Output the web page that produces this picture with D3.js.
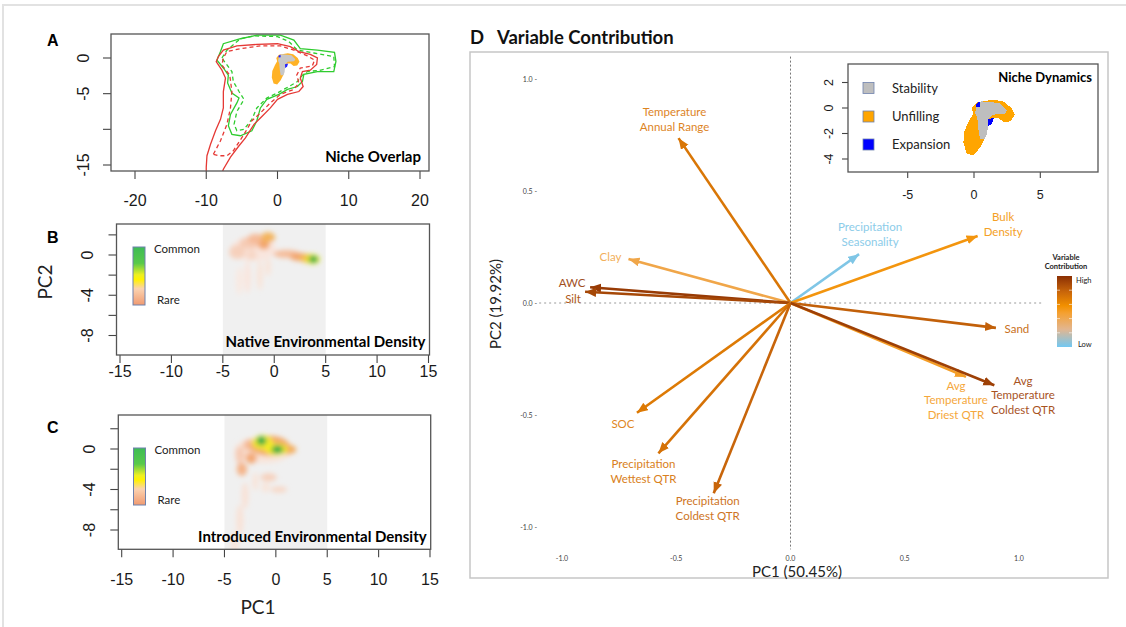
<!DOCTYPE html>
<html>
<head>
<meta charset="utf-8">
<script src="https://cdn.jsdelivr.net/npm/d3@7"></script>
<style>
  body { margin: 0; background: #fff; }
  svg { display: block; font-family: "Liberation Sans", Arial, sans-serif; }
</style>
</head>
<body>
<script>
// ---------------- Panel A: niche overlap contours (PC1, PC2) ----------------
const overlapXTicks = [-20, -10, 0, 10, 20];
const overlapYTicks = [0, -5, -10, -15];
const overlapYTickLabels = [0, -5, -15];

// native range envelope (outer, solid) and core (dashed)
const nativeRange = [[-10.0,-16.2],[-10.0,-15.3],[-9.9,-13.7],[-9.4,-12.1],[-8.7,-10.2],[-8.0,-8.6],[-7.6,-7.0],[-7.6,-4.7],[-7.3,-2.8],[-7.8,-1.7],[-8.6,-0.5],[-8.3,0.2],[-7.6,1.1],[-5.7,1.7],[-2.9,1.9],[0,2.0],[1.8,1.6],[3.0,0.9],[4.6,0.5],[5.6,0],[5.5,-0.9],[4.6,-1.7],[3.5,-1.9],[3.2,-2.8],[3.6,-4.0],[3.0,-4.7],[1.4,-5.1],[0,-5.8],[-1.0,-7.0],[-2.4,-8.4],[-3.3,-9.3],[-4.5,-11.2],[-5.4,-12.3],[-6.6,-13.9],[-7.6,-15.6],[-7.8,-16.2]];
const nativeRangeCore = [[-9.0,-13.5],[-8.0,-11.6],[-7.1,-9.3],[-6.6,-7.0],[-6.4,-4.7],[-6.7,-2.4],[-7.8,-1.0],[-7.6,0],[-7.1,0.9],[-5.2,1.3],[-2.4,1.7],[0.4,1.7],[2.3,1.1],[4.2,0.3],[5.2,-0.3],[4.9,-1.1],[3.2,-1.4],[2.7,-2.4],[3.0,-3.5],[2.3,-4.4],[0.4,-5.1],[-1.0,-6.3],[-2.4,-7.7],[-3.6,-8.8],[-4.7,-10.7],[-6.2,-13.0],[-7.1,-13.7],[-8.3,-13.7]];
// introduced range envelope (outer, solid) and core (dashed)
const introRange = [[-8.5,-0.3],[-8.0,0.9],[-7.6,2.0],[-5.2,2.7],[-2.9,3.2],[0.4,3.2],[2.3,2.5],[3.2,1.3],[5.6,1.1],[8.0,0.8],[8.2,-0.5],[7.9,-1.9],[5.6,-1.9],[3.7,-2.3],[3.5,-3.3],[2.8,-4.0],[1.4,-4.4],[0.2,-5.1],[-1.5,-5.8],[-2.4,-7.0],[-2.9,-8.8],[-3.6,-10.2],[-5.2,-10.9],[-6.4,-10.7],[-6.9,-9.5],[-6.6,-7.9],[-5.7,-6.3],[-5.4,-5.6],[-6.4,-4.9],[-7.0,-3.5],[-6.9,-2.4],[-7.6,-1.4]];
const introRangeCore = [[-7.8,0],[-7.1,1.1],[-5.2,2.7],[-3.3,3.1],[0,3.0],[1.6,2.3],[2.8,1.1],[5.1,0.7],[7.9,0.2],[8.0,-1.2],[6.1,-1.7],[4.2,-1.9],[3.5,-2.4],[2.8,-3.3],[1.6,-4.0],[0,-4.9],[-1.5,-5.6],[-2.9,-7.0],[-3.6,-8.6],[-4.7,-10.0],[-5.7,-10.2],[-6.1,-9.3],[-5.7,-7.5],[-4.7,-5.8],[-5.4,-4.7],[-6.2,-3.3],[-6.4,-1.9],[-7.3,-0.7]];

// ---------------- Niche dynamics (shared by panel A and inset) ----------------
const nicheCategories = ["Stability", "Unfilling", "Expansion"];
const nicheColors = ["#bebebe", "#ffa500", "#0000ff"];
const nicheUnfilling = [[-0.17,0],[0.2,0.44],[1.45,0.65],[2.2,0.52],[2.84,0],[3.09,-0.52],[2.76,-1.04],[2.26,-1.12],[1.83,-0.78],[1.33,-0.78],[0.95,-1.43],[0.83,-2.34],[0.45,-3.12],[-0.05,-3.73],[-0.55,-3.57],[-0.8,-2.73],[-0.73,-1.82],[-0.35,-0.97],[-0.05,-0.45]];
const nicheStability = [[0.2,0.26],[0.58,0.52],[1.96,0.39],[2.5,-0.19],[2.34,-0.45],[1.45,-0.52],[1.08,-0.91],[1.0,-1.95],[0.83,-2.42],[0.45,-2.42],[0.33,-1.7],[0.25,-0.78],[0.08,-0.39]];
const nicheExpansion = [
  [[0.12,0.28],[0.42,0.5],[0.45,0.12],[0.18,0.08]],
  [[1.05,-0.86],[1.5,-0.78],[1.35,-1.2],[1.08,-1.45]]
];
const insetXTicks = [-5, 0, 5];
const insetYTicks = [2, 0, -2, -4];

// ---------------- Panels B and C: environmental density ----------------
const densityXTicks = [-15, -10, -5, 0, 5, 10, 15];
const densityYTicks = [2, 0, -2, -4, -6, -8];
const densityYTickLabels = [0, -4, -8];
const envExtent = [-5, 5];
// density kernels: [pc1, pc2, spread1, spread2, relative density]
const nativeDensity = [
  [-2.0,0.6,2.2,1.2,0.05],[-3.6,0.3,0.8,0.7,0.12],[-2.4,1.2,1.0,0.6,0.14],[-1.8,1.6,0.8,0.5,0.2],
  [-0.6,1.75,0.7,0.5,0.36],[-1.0,1.0,0.55,0.45,0.3],[-2.2,0.0,0.5,0.5,0.1],
  [1.2,0.1,1.3,0.4,0.2],[2.5,-0.2,1.0,0.4,0.3],[3.3,-0.35,0.8,0.45,0.4],[3.75,-0.42,0.7,0.5,0.62],[3.8,-0.42,0.45,0.35,1.0],
  [-2.6,-2.2,0.35,1.6,0.05],[-1.4,-2.0,0.3,1.5,0.06],[-0.6,-1.2,0.3,0.9,0.06],[-3.4,-2.6,0.3,1.4,0.04]
];
const introducedDensity = [
  [-1.2,-0.1,2.8,1.3,0.06],[-3.5,-0.6,0.45,0.9,0.14],[-3.3,-2.0,0.5,0.65,0.24],[-2.4,-0.9,0.55,0.55,0.28],
  [-2.4,0.4,0.8,0.6,0.2],[-0.6,0.3,1.9,1.0,0.32],[1.1,-0.05,0.9,0.5,0.34],[-1.3,0.65,1.0,0.7,0.6],
  [0.05,-0.05,1.1,0.6,0.6],[-0.6,0.2,0.45,0.4,0.5],[-1.4,0.8,0.5,0.45,1.0],[0.15,-0.05,0.6,0.4,1.0],
  [-0.7,-2.8,0.8,0.4,0.12],[0.3,-4.0,0.8,0.3,0.1],[-1.0,-3.8,0.4,0.5,0.06],[-3.0,-4.6,0.35,1.3,0.07],
  [-3.5,-7.0,0.35,1.5,0.07],[-4.0,-9.3,0.35,1.2,0.06],[-2.0,-3.2,0.3,0.9,0.06]
];

// ---------------- Panel D: PCA variable loadings ----------------
const variableLabels = [
  ["Temperature","Annual Range"], ["Clay"], ["AWC"], ["Silt"], ["SOC"],
  ["Precipitation","Wettest QTR"], ["Precipitation","Coldest QTR"], ["Precipitation","Seasonality"],
  ["Bulk","Density"], ["Sand"], ["Avg","Temperature","Driest QTR"], ["Avg","Temperature","Coldest QTR"]
];
const pc1Loadings = [-0.49, -0.709, -0.877, -0.899, -0.672, -0.578, -0.336, 0.30, 0.819, 0.899, 0.768, 0.892];
const pc2Loadings = [0.736, 0.196, 0.07, 0.05, -0.49, -0.671, -0.849, 0.218, 0.299, -0.111, -0.33, -0.367];
const contributions = [0.7, 0.42, 0.95, 0.9, 0.68, 0.72, 0.78, 0.03, 0.55, 0.8, 0.5, 0.93];
const loadingTicks = [-1, -0.5, 0, 0.5, 1];
const pc1Label = "PC1 (50.45%)";
const pc2Label = "PC2 (19.92%)";

// label placement relative to arrow tips (px)
const labelOffsets = [[-4,-26],[-18,-2.5],[-18,-4],[-12,7.3],[-14,11.5],[-15,11],[-6,8],[11,-26.7],[25.5,-19],[21,1],[-10,9],[28.7,-4.7]];

// ================= drawing =================
const svg = d3.select("body").append("svg").attr("width", 1126).attr("height", 627);
const defs = svg.append("defs");

defs.append("filter").attr("id", "soft")
  .attr("filterUnits", "userSpaceOnUse").attr("x", 0).attr("y", 0).attr("width", 1126).attr("height", 627)
  .append("feGaussianBlur").attr("stdDeviation", 2.6);

// page frame
svg.append("path").attr("d", "M3,627 V5 H1126").attr("fill", "none").attr("stroke", "#e2e2e2").attr("stroke-width", 2);

function clipRect(id, b) {
  defs.append("clipPath").attr("id", id).append("rect")
    .attr("x", b.x0).attr("y", b.y0).attr("width", b.x1 - b.x0).attr("height", b.y1 - b.y0);
}

function rAxes(b, xs, ys, xTicks, yTicks, yLabelVals, o) {
  const g = svg.append("g").attr("font-size", o.size).attr("fill", "#1a1a1a");
  g.selectAll("line.xt").data(xTicks).join("line").attr("class", "xt")
    .attr("x1", d => xs(d)).attr("x2", d => xs(d)).attr("y1", b.y1).attr("y2", b.y1 + o.tick)
    .attr("stroke", "#444").attr("stroke-width", 1.1);
  g.selectAll("text.xl").data(xTicks).join("text").attr("class", "xl")
    .attr("x", d => xs(d)).attr("y", o.xLabY).attr("text-anchor", "middle").text(d => String(d));
  g.selectAll("line.yt").data(yTicks).join("line").attr("class", "yt")
    .attr("x1", b.x0 - o.tick).attr("x2", b.x0).attr("y1", d => ys(d)).attr("y2", d => ys(d))
    .attr("stroke", "#444").attr("stroke-width", 1.1);
  g.selectAll("text.yl").data(yLabelVals).join("text").attr("class", "yl")
    .attr("x", o.yLabX).attr("y", d => ys(d)).attr("text-anchor", "middle")
    .attr("transform", d => `rotate(-90,${o.yLabX},${ys(d)})`).text(d => String(d));
  svg.append("rect").attr("x", b.x0).attr("y", b.y0).attr("width", b.x1 - b.x0).attr("height", b.y1 - b.y0)
    .attr("fill", "none").attr("stroke", "#555").attr("stroke-width", 1.3);
}

function drawNiche(g, xs, ys) {
  const poly = d3.line().x(d => xs(d[0])).y(d => ys(d[1])).curve(d3.curveLinearClosed);
  g.append("path").attr("d", poly(nicheUnfilling)).attr("fill", nicheColors[1]);
  g.append("path").attr("d", poly(nicheStability)).attr("fill", nicheColors[0]);
  g.selectAll("path.exp").data(nicheExpansion).join("path").attr("class", "exp")
    .attr("d", poly).attr("fill", nicheColors[2]);
}

// ---------- Panel A ----------
const boxA = { x0: 111, y0: 34, x1: 429, y1: 171 };
const xA = d3.scaleLinear().domain([-20, 20]).range([135, 420]);
const yA = d3.scaleLinear().domain([0, -15]).range([58, 165]);
clipRect("clipA", boxA);
const gA = svg.append("g").attr("clip-path", "url(#clipA)");
drawNiche(gA.append("g").attr("opacity", 0.85), xA, yA);
const lineA = d3.line().x(d => xA(d[0])).y(d => yA(d[1]));
const lineAc = d3.line().x(d => xA(d[0])).y(d => yA(d[1])).curve(d3.curveLinearClosed);
const red = "#e53935", green = "#2fcc2f";
gA.append("path").attr("d", lineAc(introRangeCore)).attr("fill", "none").attr("stroke", green).attr("stroke-width", 1.3).attr("stroke-dasharray", "4,3");
gA.append("path").attr("d", lineAc(introRange)).attr("fill", "none").attr("stroke", green).attr("stroke-width", 1.3);
gA.append("path").attr("d", lineAc(nativeRangeCore)).attr("fill", "none").attr("stroke", red).attr("stroke-width", 1.3).attr("stroke-dasharray", "4,3");
gA.append("path").attr("d", lineA(nativeRange)).attr("fill", "none").attr("stroke", red).attr("stroke-width", 1.3);
rAxes(boxA, xA, yA, overlapXTicks, overlapYTicks, overlapYTickLabels, { size: 16, tick: 8, xLabY: 206, yLabX: 89 });
svg.append("text").attr("x", 421).attr("y", 162).attr("text-anchor", "end")
  .attr("font-family", "Lato, sans-serif").attr("font-weight", 700).attr("font-size", 15).text("Niche Overlap");
svg.append("text").attr("x", 47).attr("y", 46).attr("font-weight", 700).attr("font-size", 16).text("A");

// ---------- Panels B & C ----------
const densityColor = d3.scaleLinear()
  .domain([0, 0.08, 0.18, 0.3, 0.45, 0.6, 0.8, 1])
  .range(["#fdf2ec", "#f9dccd", "#f5bea0", "#f2a266", "#f5c83a", "#f7ee22", "#9bd82c", "#16a84a"]);

const legendGrad = defs.append("linearGradient").attr("id", "densLegend").attr("x1", 0).attr("y1", 0).attr("x2", 0).attr("y2", 1);
[[0, "#3dbb55"], [0.28, "#58c94a"], [0.48, "#eef020"], [0.56, "#fff200"], [0.72, "#fbd2b0"], [1, "#f09a70"]]
  .forEach(s => legendGrad.append("stop").attr("offset", s[0]).attr("stop-color", s[1]));

function densityPanel(id, box, xs, ys, blobs, title, titleY, letter, letterY, leg) {
  clipRect(id, box);
  const g = svg.append("g").attr("clip-path", `url(#${id})`);
  g.append("rect").attr("x", xs(envExtent[0])).attr("width", xs(envExtent[1]) - xs(envExtent[0]))
    .attr("y", box.y0).attr("height", box.y1 - box.y0).attr("fill", "#f0f0f0");
  const sorted = blobs.slice().sort((a, b) => a[4] - b[4]);
  g.append("g").attr("filter", "url(#soft)")
    .selectAll("ellipse").data(sorted).join("ellipse")
    .attr("cx", d => xs(d[0])).attr("cy", d => ys(d[1]))
    .attr("rx", d => Math.abs(xs(d[2]) - xs(0))).attr("ry", d => Math.abs(ys(d[3]) - ys(0)))
    .attr("fill", d => densityColor(d[4]))
    .attr("fill-opacity", d => d[4] < 0.1 ? 0.8 : 0.95);
  rAxes(box, xs, ys, densityXTicks, densityYTicks, densityYTickLabels, leg.axis);
  svg.append("rect").attr("x", leg.x).attr("y", leg.y0).attr("width", 12).attr("height", leg.y1 - leg.y0)
    .attr("fill", "url(#densLegend)").attr("stroke", "#6f82ad").attr("stroke-width", 1);
  const lg = svg.append("g").attr("font-family", "Lato, sans-serif").attr("font-size", 11.5).attr("fill", "#222");
  lg.append("text").attr("x", leg.x + 21).attr("y", leg.y0 + 6).text("Common");
  lg.append("text").attr("x", leg.x + 24).attr("y", leg.y1 - 1).text("Rare");
  svg.append("text").attr("x", box.x1 - 4).attr("y", titleY).attr("text-anchor", "end")
    .attr("font-family", "Lato, sans-serif").attr("font-weight", 700).attr("font-size", 15).text(title);
  svg.append("text").attr("x", 47).attr("y", letterY).attr("font-weight", 700).attr("font-size", 16).text(letter);
}

const boxB = { x0: 116.5, y0: 224, x1: 429.5, y1: 355 };
const xB = d3.scaleLinear().domain([-15, 15]).range([120, 428.5]);
const yB = d3.scaleLinear().domain([0, -8]).range([255, 335.5]);
densityPanel("clipB", boxB, xB, yB, nativeDensity, "Native Environmental Density", 347, "B", 243,
  { x: 133, y0: 247, y1: 305, axis: { size: 16, tick: 8, xLabY: 377, yLabX: 93 } });

const boxC = { x0: 118.3, y0: 415, x1: 430.7, y1: 549.3 };
const xC = d3.scaleLinear().domain([-15, 15]).range([121.7, 430]);
const yC = d3.scaleLinear().domain([0, -8]).range([449, 530]);
densityPanel("clipC", boxC, xC, yC, introducedDensity, "Introduced Environmental Density", 542, "C", 433,
  { x: 133.5, y0: 448, y1: 505, axis: { size: 16, tick: 8, xLabY: 585, yLabX: 95 } });

svg.append("text").attr("x", 258).attr("y", 614).attr("text-anchor", "middle")
  .attr("font-family", "Lato, sans-serif").attr("font-size", 19).attr("fill", "#222").text("PC1");
svg.append("text").attr("x", 52).attr("y", 282).attr("text-anchor", "middle")
  .attr("transform", "rotate(-90,52,282)")
  .attr("font-family", "Lato, sans-serif").attr("font-size", 19).attr("fill", "#222").text("PC2");

// ---------- Panel D ----------
const boxD = { x0: 470, y0: 52, x1: 1108, y1: 578 };
svg.append("rect").attr("x", boxD.x0).attr("y", boxD.y0).attr("width", boxD.x1 - boxD.x0).attr("height", boxD.y1 - boxD.y0)
  .attr("fill", "#fff").attr("stroke", "#c6c6c6").attr("stroke-width", 1.5);
svg.append("text").attr("x", 470).attr("y", 44).attr("font-family", "Lato, sans-serif")
  .attr("font-weight", 700).attr("font-size", 18.5).attr("fill", "#111")
  .call(t => { t.append("tspan").text("D"); t.append("tspan").attr("x", 497).text("Variable Contribution"); });

const xD = d3.scaleLinear().domain([-1, 1]).range([562, 1019]);
const yD = d3.scaleLinear().domain([-1, 1]).range([527, 79]);

// reference lines through the origin
svg.append("line").attr("x1", xD(-1.1)).attr("x2", xD(1.1)).attr("y1", yD(0)).attr("y2", yD(0))
  .attr("stroke", "#9a9a9a").attr("stroke-width", 1).attr("stroke-dasharray", "2,3");
svg.append("line").attr("x1", xD(0)).attr("x2", xD(0)).attr("y1", yD(1.1)).attr("y2", yD(-1.1))
  .attr("stroke", "#777").attr("stroke-width", 1).attr("stroke-dasharray", "2,2");

// tick labels
const tk = svg.append("g").attr("font-family", "Lato, sans-serif").attr("font-size", 7).attr("fill", "#444");
tk.selectAll("text.ty").data(loadingTicks).join("text").attr("class", "ty")
  .attr("x", 537).attr("y", d => yD(d) + 2.5).attr("text-anchor", "end").text(d => d.toFixed(1) + " -");
tk.selectAll("text.tx").data(loadingTicks).join("text").attr("class", "tx")
  .attr("x", d => xD(d)).attr("y", 561).attr("text-anchor", "middle").text(d => d.toFixed(1));

svg.append("text").attr("x", 797).attr("y", 577).attr("text-anchor", "middle")
  .attr("font-family", "Lato, sans-serif").attr("font-size", 15).attr("fill", "#222").text(pc1Label);
svg.append("text").attr("x", 501).attr("y", 304).attr("text-anchor", "middle")
  .attr("transform", "rotate(-90,501,304)")
  .attr("font-family", "Lato, sans-serif").attr("font-size", 15).attr("fill", "#222").text(pc2Label);

// contribution colour scale
const contribStops = [0, 0.25, 0.48, 0.58, 0.78, 1];
const contribColors = ["#72c8f2", "#e2b690", "#f5a030", "#f29000", "#c8650a", "#8a2f04"];
const contribColor = d3.scaleLinear().domain(contribStops).range(contribColors);

const loadings = variableLabels.map((lab, i) => ({
  lab, x: pc1Loadings[i], y: pc2Loadings[i], c: contributions[i], off: labelOffsets[i], i
}));

loadings.forEach(d => {
  defs.append("marker").attr("id", "ah" + d.i)
    .attr("markerUnits", "userSpaceOnUse").attr("markerWidth", 12).attr("markerHeight", 10)
    .attr("refX", 11).attr("refY", 4.5).attr("orient", "auto")
    .append("path").attr("d", "M0,0 L11,4.5 L0,9 Z").attr("fill", contribColor(d.c));
});

const arrows = svg.append("g");
arrows.selectAll("line").data(loadings).join("line")
  .attr("x1", xD(0)).attr("y1", yD(0))
  .attr("x2", d => xD(d.x)).attr("y2", d => yD(d.y))
  .attr("stroke", d => contribColor(d.c)).attr("stroke-width", 2.6)
  .attr("marker-end", d => `url(#ah${d.i})`);

const labels = svg.append("g").attr("font-family", "Lato, sans-serif").attr("font-size", 11.5).attr("text-anchor", "middle");
labels.selectAll("text").data(loadings).join("text")
  .attr("fill", d => d3.interpolateRgb(contribColor(d.c), "#ffffff")(0.1))
  .each(function (d) {
    const cx = xD(d.x) + d.off[0], cy = yD(d.y) + d.off[1];
    d3.select(this).selectAll("tspan").data(d.lab).join("tspan")
      .attr("x", cx).attr("y", (s, k) => cy + 4 + k * 14.5).text(s => s);
  });

// contribution legend
const cg = defs.append("linearGradient").attr("id", "contribGrad").attr("x1", 0).attr("y1", 1).attr("x2", 0).attr("y2", 0);
contribStops.forEach((s, k) => cg.append("stop").attr("offset", s).attr("stop-color", contribColors[k]));
const lgD = svg.append("g").attr("font-family", "Lato, sans-serif").attr("fill", "#222");
lgD.append("text").attr("x", 1066).attr("y", 259.5).attr("text-anchor", "middle").attr("font-size", 7.5).attr("font-weight", 700).text("Variable");
lgD.append("text").attr("x", 1066).attr("y", 268.5).attr("text-anchor", "middle").attr("font-size", 7.5).attr("font-weight", 700).text("Contribution");
lgD.append("rect").attr("x", 1057).attr("y", 276).attr("width", 15).attr("height", 71).attr("fill", "url(#contribGrad)");
lgD.selectAll("path.dash").data(d3.range(1, 5)).join("path").attr("class", "dash")
  .attr("d", k => `M1057,${276 + k * 14.2}h3M1069,${276 + k * 14.2}h3`)
  .attr("stroke", "#fff").attr("stroke-opacity", 0.6).attr("stroke-width", 1);
lgD.append("text").attr("x", 1076).attr("y", 283).attr("font-size", 7.5).text("High");
lgD.append("text").attr("x", 1078).attr("y", 347).attr("font-size", 7.5).text("Low");

// ---------- Niche dynamics inset ----------
const boxI = { x0: 848, y0: 64, x1: 1098, y1: 172 };
const xI = d3.scaleLinear().domain([-5, 5]).range([907.7, 1040.3]);
const yI = d3.scaleLinear().domain([2, -4]).range([82.5, 159]);
svg.append("rect").attr("x", boxI.x0).attr("y", boxI.y0).attr("width", boxI.x1 - boxI.x0).attr("height", boxI.y1 - boxI.y0).attr("fill", "#fff");
clipRect("clipI", boxI);
drawNiche(svg.append("g").attr("clip-path", "url(#clipI)").attr("shape-rendering", "crispEdges"), xI, yI);
rAxes(boxI, xI, yI, insetXTicks, insetYTicks, insetYTicks, { size: 12.5, tick: 6, xLabY: 199, yLabX: 833 });
svg.append("text").attr("x", 1092).attr("y", 82).attr("text-anchor", "end")
  .attr("font-family", "Lato, sans-serif").attr("font-weight", 700).attr("font-size", 13).text("Niche Dynamics");
const nl = svg.append("g");
const nicheLegendY = [88, 116.5, 144.5];
nl.selectAll("rect").data(nicheCategories).join("rect")
  .attr("x", 863).attr("y", (d, k) => nicheLegendY[k] - 5.5).attr("width", 11).attr("height", 11)
  .attr("fill", (d, k) => nicheColors[k]).attr("stroke", "#6f82ad").attr("stroke-width", 0.8);
nl.selectAll("text").data(nicheCategories).join("text")
  .attr("x", 892).attr("y", (d, k) => nicheLegendY[k] + 4.5)
  .attr("font-family", "Lato, sans-serif").attr("font-size", 13).attr("fill", "#222").text(d => d);
</script>
</body>
</html>
